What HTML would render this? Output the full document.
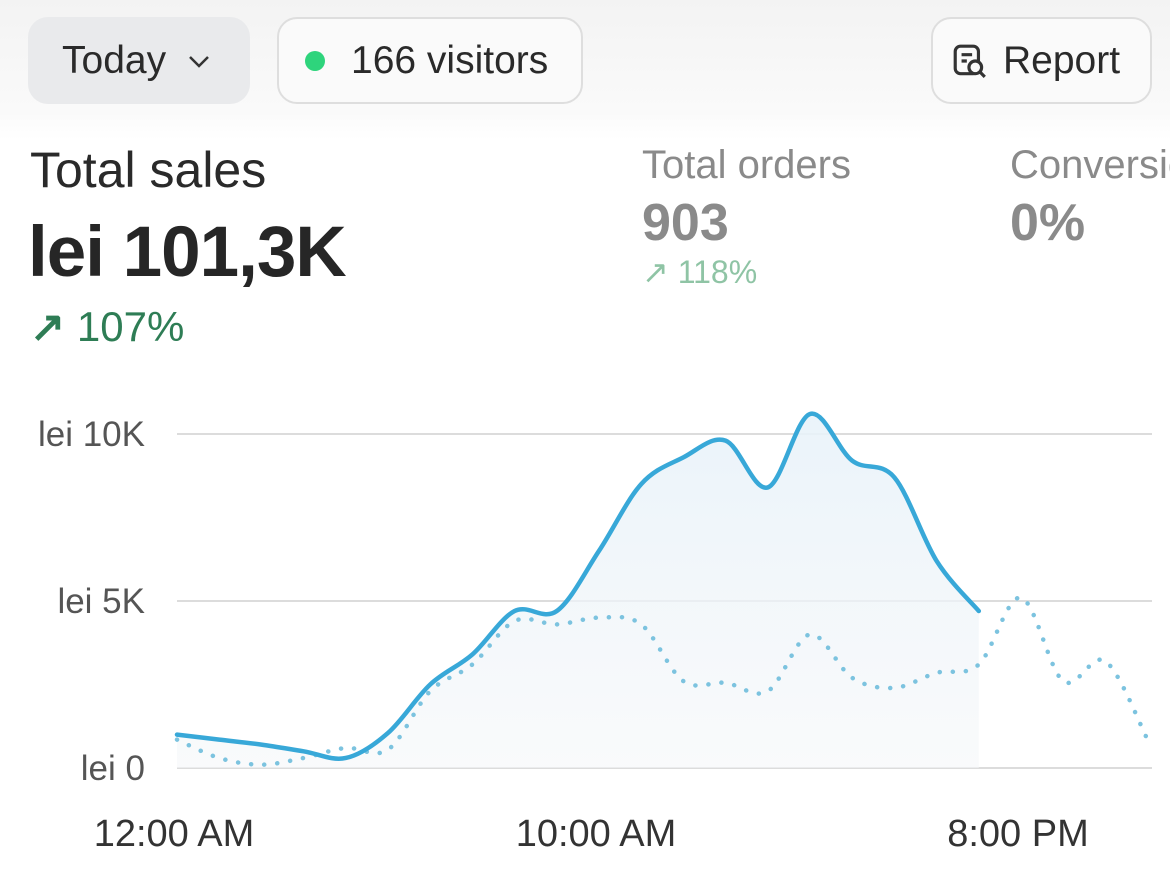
<!DOCTYPE html>
<html><head><meta charset="utf-8"><style>
body{margin:0;width:1170px;height:886px;overflow:hidden;background:#fff;font-family:"Liberation Sans",sans-serif;position:relative}
.top{position:absolute;left:0;top:0;width:1170px;height:140px;background:linear-gradient(#f3f3f3,#fafafa 80%,#fff)}
.btn{position:absolute;box-sizing:border-box;border-radius:20px;font-size:39px;color:#2a2a2a;display:flex;align-items:center}
.abs{position:absolute;white-space:nowrap}
</style></head><body>
<div class="top"></div>
<div class="btn" style="left:28px;top:17px;width:222px;height:87px;background:#e9eaec;padding-left:34px">Today<svg width="26" height="16" style="margin-left:20px" viewBox="0 0 24 16"><path d="M3 4l9 9 9-9" stroke="#333" stroke-width="2.5" fill="none"/></svg></div>
<div class="btn" style="left:277px;top:17px;width:306px;height:87px;background:#fafafa;border:2px solid #dedede;padding-left:26px"><span style="display:inline-block;width:20px;height:20px;border-radius:50%;background:#2ed47c;margin-right:26px"></span>166 visitors</div>
<div class="btn" style="left:931px;top:17px;width:221px;height:87px;background:#fafafa;border:2px solid #dedede;padding-left:18px"><svg width="38" height="38" viewBox="0 0 36 36" style="margin-right:14px"><rect x="4" y="4" width="22" height="26" rx="5" stroke="#333" stroke-width="3" fill="none"/><path d="M10 12h10M10 18h5" stroke="#333" stroke-width="3"/><circle cx="23" cy="24" r="6" stroke="#333" stroke-width="3" fill="#fafafa"/><path d="M27 28l5 5" stroke="#333" stroke-width="3"/></svg>Report</div>
<div class="abs" style="left:30px;top:141px;font-size:50px;color:#2a2a2a">Total sales</div>
<div class="abs" style="left:28px;top:212px;font-size:71px;font-weight:bold;color:#262626;letter-spacing:-1px">lei 101,3K</div>
<div class="abs" style="left:30px;top:302px;font-size:42px;color:#2e7d55"><span style="font-weight:bold">↗</span> 107%</div>
<div class="abs" style="left:642px;top:143px;font-size:40px;color:#8a8a8a">Total orders</div>
<div class="abs" style="left:642px;top:193px;font-size:52px;font-weight:bold;color:#8a8a8a">903</div>
<div class="abs" style="left:642px;top:253px;font-size:32px;color:#8fc4a5">↗ 118%</div>
<div class="abs" style="left:1010px;top:143px;font-size:40px;color:#8a8a8a">Conversion</div>
<div class="abs" style="left:1010px;top:193px;font-size:52px;font-weight:bold;color:#8a8a8a">0%</div>
<svg id="chart" width="1170" height="886" style="position:absolute;left:0;top:0">
<defs><linearGradient id="fg" x1="0" y1="0" x2="0" y2="1"><stop offset="0" stop-color="#e8f2f9" stop-opacity="0.9"/><stop offset="1" stop-color="#f5f7f9" stop-opacity="0.6"/></linearGradient></defs>
</svg>
<script>
const hours=[0,1,2,3,4,5,6,7,8,9,10,11,12,13,14,15,16,17,18,19,20,21,22,23];
const today=[1.0,0.85,0.7,0.5,0.3,1.05,2.5,3.4,4.7,4.7,6.5,8.5,9.3,9.8,8.4,10.6,9.2,8.7,6.2,4.7];
const yesterday=[0.85,0.3,0.1,0.3,0.6,0.55,2.3,3.1,4.4,4.3,4.5,4.3,2.6,2.55,2.3,4.0,2.7,2.4,2.85,3.1,5.1,2.6,3.2,0.85];
const yTicks=[0,5,10];
const yTickLabels=["lei 0","lei 5K","lei 10K"];
const xTicks=[0,10,20];
const xTickLabels=["12:00 AM","10:00 AM","8:00 PM"];
const NS="http://www.w3.org/2000/svg";
const svg=document.getElementById('chart');
const x=h=>177+h*42.2;
const y=v=>768-v*33.4;
function mk(t,a){const e=document.createElementNS(NS,t);for(const k in a)e.setAttribute(k,a[k]);svg.appendChild(e);return e;}
function smooth(pts){let d=`M${pts[0][0]},${pts[0][1]}`;for(let i=0;i<pts.length-1;i++){const p0=pts[i-1]||pts[i],p1=pts[i],p2=pts[i+1],p3=pts[i+2]||p2;const c1x=p1[0]+(p2[0]-p0[0])/6,c1y=p1[1]+(p2[1]-p0[1])/6,c2x=p2[0]-(p3[0]-p1[0])/6,c2y=p2[1]-(p3[1]-p1[1])/6;d+=` C${c1x},${c1y} ${c2x},${c2y} ${p2[0]},${p2[1]}`;}return d;}
yTicks.forEach((t,i)=>{
const g=mk('line',{x1:177,x2:1152,y1:y(t),y2:y(t),stroke:'#dcdcdc','stroke-width':2});


const tx=mk('text',{x:145,y:y(t)+12,'text-anchor':'end','font-size':35,fill:'#555','font-family':'Liberation Sans, sans-serif'});
tx.textContent=yTickLabels[i];


});
xTicks.forEach((t,i)=>{
const tx=mk('text',{x:x(t)-3,y:846,'text-anchor':'middle','font-size':38,fill:'#333','font-family':'Liberation Sans, sans-serif'});
tx.textContent=xTickLabels[i];


});
const tp=today.map((v,i)=>[x(hours[i]),y(v)]);
const yp=yesterday.map((v,i)=>[x(hours[i]),y(v)]);
const area=mk('path',{d:smooth(tp)+` L${tp[tp.length-1][0]},${y(0)} L${tp[0][0]},${y(0)} Z`,fill:'url(#fg)'});


const yl=mk('path',{d:smooth(yp),fill:'none',stroke:'#7cc3df','stroke-width':4.5,'stroke-dasharray':'0.1 13','stroke-linecap':'round'});


const tl=mk('path',{d:smooth(tp),fill:'none',stroke:'#38a8d8','stroke-width':4.5,'stroke-linejoin':'round','stroke-linecap':'round'});


</script>
</body></html>
